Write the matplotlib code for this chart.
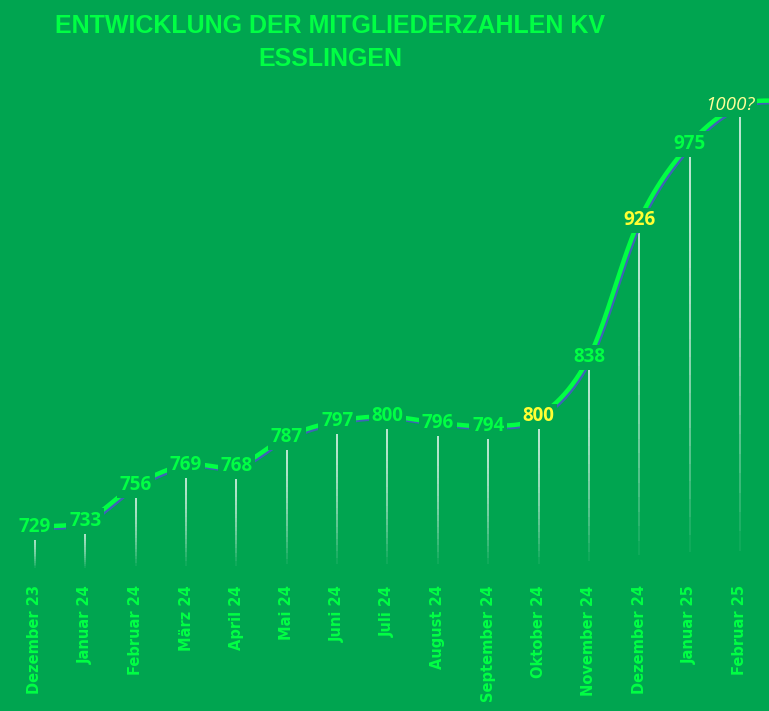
import numpy as np
import matplotlib.pyplot as plt
import matplotlib.patheffects as pe
from matplotlib.collections import LineCollection

months = ["Dezember 23", "Januar 24", "Februar 24", "März 24", "April 24", "Mai 24",
          "Juni 24", "Juli 24", "August 24", "September 24", "Oktober 24",
          "November 24", "Dezember 24", "Januar 25", "Februar 25"]
members = [729, 733, 756, 769, 768, 787, 797, 800, 796, 794, 800, 838, 926, 975, 1000]
labels = ["729", "733", "756", "769", "768", "787", "797", "800", "796", "794", "800",
          "838", "926", "975", "1000?"]
tail_value = 1003  # where the smoothed line leaves the chart on the right

bg = '#00A550'
bright = '#00FF44'
yellow = '#FFFF33'
pale_yellow = '#FFFF99'
shadow_blue = '#3F63B8'


def smooth(vals, n=40):
    # Catmull-Rom curve through the points (like Excel's smoothed line)
    p = np.asarray(vals, dtype=float)
    xs, ys = [], []
    for i in range(len(p) - 1):
        m0 = (p[i + 1] - p[i - 1]) / 2 if i > 0 else p[i + 1] - p[i]
        m1 = (p[i + 2] - p[i]) / 2 if i + 2 < len(p) else p[i + 1] - p[i]
        t = np.linspace(0, 1, n)
        h00 = 2 * t**3 - 3 * t**2 + 1
        h10 = t**3 - 2 * t**2 + t
        h01 = -2 * t**3 + 3 * t**2
        h11 = t**3 - t**2
        xs.append(i + t)
        ys.append(h00 * p[i] + h10 * m0 + h01 * p[i + 1] + h11 * m1)
    return np.concatenate(xs), np.concatenate(ys)


fig = plt.figure(figsize=(7.69, 7.11), dpi=100, facecolor=bg)
ax = fig.add_axes([0, 141 / 711, 1, 480 / 711])
ax.set_facecolor(bg)
ax.set_xlim(-0.695, 14.576)
ax.set_ylim(701.4, 1009.7)
for s in ax.spines.values():
    s.set_visible(False)
ax.set_yticks([])

x = np.arange(len(members))

# drop lines fading towards the bottom
segs, cols = [], []
for xi, v in zip(x, members):
    edges = np.linspace(v, 701.4, 25)
    for k in range(24):
        segs.append([(xi, edges[k]), (xi, edges[k + 1])])
        a = 0.95 * (1 - (k / 23) ** 2)
        cols.append((1, 1, 1, max(a, 0.0)))
ax.add_collection(LineCollection(segs, colors=cols, linewidths=1.1, zorder=2))

sx, sy = smooth(members + [tail_value])
ax.plot(sx, sy, color=bright, lw=3.2, zorder=3, solid_capstyle='butt',
        path_effects=[pe.SimpleLineShadow(offset=(1.2, -1.2), shadow_color=shadow_blue, alpha=1),
                      pe.Normal()])

for i, (v, lab) in enumerate(zip(members, labels)):
    color = bright
    style = 'normal'
    weight = 'bold'
    xpos = i
    if i in (10, 12):
        color = yellow
    if i == 14:
        color = pale_yellow
        style = 'italic'
        weight = 'normal'
        xpos = i - 0.2
    ax.text(xpos, v, lab, ha='center', va='center', fontsize=13.5, color=color,
            fontweight=weight, fontstyle=style, family=['Open Sans', 'DejaVu Sans'],
            zorder=5, bbox=dict(boxstyle='square,pad=0.15', fc=bg, ec='none'))

ax.set_xticks(x)
ax.set_xticklabels(months, rotation=90, fontsize=10.5, fontweight='bold', color=bright,
                   family='DejaVu Sans')
ax.tick_params(axis='x', length=0, pad=11)

title_font = ['Liberation Sans Narrow', 'Liberation Sans', 'DejaVu Sans']
fig.text(330 / 769, 1 - 26 / 711, "ENTWICKLUNG DER MITGLIEDERZAHLEN KV", ha='center',
         va='center', fontsize=18, fontweight='bold', color=bright, family=title_font)
fig.text(330 / 769, 1 - 59 / 711, "ESSLINGEN", ha='center', va='center', fontsize=18,
         fontweight='bold', color=bright, family=title_font)

fig.savefig('out.png', dpi=100, facecolor=bg)
